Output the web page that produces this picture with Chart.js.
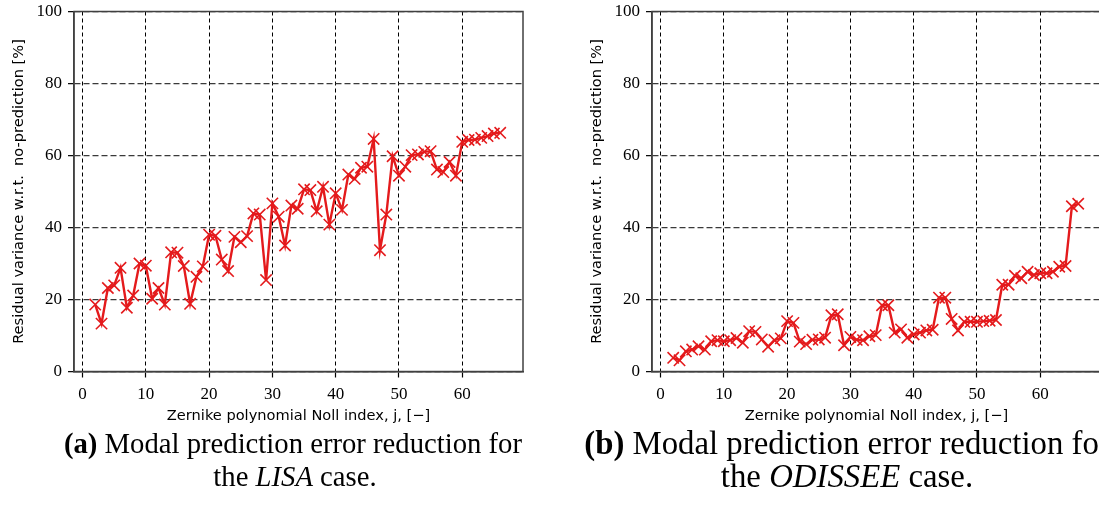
<!DOCTYPE html>
<html>
<head>
<meta charset="utf-8">
<script src="https://cdn.jsdelivr.net/npm/chart.js@4.4.1/dist/chart.umd.min.js"></script>
<style>
  html, body { margin: 0; padding: 0; background: #fff; }
  body { width: 1099px; height: 523px; overflow: hidden; position: relative; }
  canvas { position: absolute; top: 0; }
  #lisaChart { left: 0; }
  #odisseeChart { left: 578px; }
  .cap { position: absolute; font-family: 'Liberation Serif', serif; color: #000; white-space: nowrap; line-height: 1; transform: translate(-50%, -50%); }
  .capA { font-size: 28.7px; }
  .capB { font-size: 32.8px; }
</style>
</head>
<body>
<canvas id="lisaChart" width="545" height="430"></canvas>
<canvas id="odisseeChart" width="545" height="430"></canvas>

<div class="cap capA" style="left:293px; top:443px;"><b>(a)</b> Modal prediction error reduction for</div>
<div class="cap capA" style="left:295px; top:476px;">the <i>LISA</i> case.</div>
<div class="cap capB" style="left:847px; top:443px;"><b>(b)</b> Modal prediction error reduction for</div>
<div class="cap capB" style="left:847px; top:476px;">the <i>ODISSEE</i> case.</div>

<script>
// Zernike polynomial Noll index j
const nollIndex = [2, 3, 4, 5, 6, 7, 8, 9, 10, 11, 12, 13, 14, 15, 16, 17, 18, 19, 20, 21,
  22, 23, 24, 25, 26, 27, 28, 29, 30, 31, 32, 33, 34, 35, 36, 37, 38, 39, 40, 41,
  42, 43, 44, 45, 46, 47, 48, 49, 50, 51, 52, 53, 54, 55, 56, 57, 58, 59, 60, 61,
  62, 63, 64, 65, 66];

// residual variance w.r.t. no-prediction [%]
const lisaResidual = [18.6, 13.3, 23.2, 23.9, 28.8, 17.7, 21.1, 30.0, 29.4, 20.2,
  23.2, 18.6, 33.1, 33.0, 29.3, 18.8, 26.3, 29.2, 38.0, 37.7,
  31.1, 27.9, 37.4, 35.9, 37.6, 43.9, 43.6, 25.4, 46.7, 43.0,
  35.0, 46.1, 45.2, 50.6, 50.4, 44.5, 51.3, 40.8, 49.5, 44.9,
  54.7, 53.5, 56.6, 56.9, 64.6, 33.7, 43.6, 59.8, 54.4, 56.9,
  60.1, 60.3, 61.0, 61.2, 56.1, 55.4, 58.2, 54.4, 63.8, 64.3,
  64.4, 64.9, 65.4, 66.1, 66.3];

const odisseeResidual = [3.8, 3.1, 5.6, 6.1, 7.0, 6.1, 8.4, 8.7, 8.4, 8.7,
  9.3, 8.0, 11.2, 11.0, 8.9, 6.9, 8.7, 9.2, 14.0, 13.5,
  8.3, 7.6, 8.8, 8.9, 9.4, 15.6, 15.9, 7.3, 9.6, 8.8,
  8.7, 9.8, 10.1, 18.4, 18.4, 10.8, 11.7, 9.4, 10.3, 10.8,
  11.4, 11.6, 20.5, 20.5, 14.6, 11.4, 13.8, 13.8, 13.8, 14.0,
  14.1, 14.3, 24.1, 24.1, 26.6, 25.9, 27.7, 26.8, 27.3, 27.3,
  27.7, 29.1, 29.3, 45.9, 46.6];

const xTicks = [0, 10, 20, 30, 40, 50, 60];
const yTicks = [0, 20, 40, 60, 80, 100];

const RED = '#e41a1c';
const SPINE = '#404040';

// full box around the plot area (top and right spines)
const framePlugin = {
  id: 'frame',
  beforeDatasetsDraw(chart) {
    const { ctx, chartArea: a } = chart;
    ctx.save();
    ctx.strokeStyle = SPINE;
    ctx.lineWidth = 1.5;
    ctx.strokeRect(a.left, a.top, a.right - a.left, a.bottom - a.top);
    ctx.restore();
  },
};

function makeChart(id, values) {
  const tickFont = { family: "'Liberation Serif', serif", size: 17 };
  const titleFont = { family: "'DejaVu Sans', sans-serif", size: 14.6 };

  return new Chart(document.getElementById(id), {
    type: 'line',
    data: {
      datasets: [{
        data: nollIndex.map((j, i) => ({ x: j, y: values[i] })),
        borderColor: RED,
        backgroundColor: RED,
        borderWidth: 2.4,
        pointStyle: 'crossRot',
        pointRadius: 8,
        pointBorderWidth: 1.6,
        pointBorderColor: RED,
        tension: 0,
        clip: false,
      }],
    },
    options: {
      responsive: false,
      animation: false,
      devicePixelRatio: 1,
      layout: { padding: { left: 0, top: 11.5, right: 22, bottom: 0 } },
      plugins: { legend: { display: false }, tooltip: { enabled: false } },
      scales: {
        x: {
          type: 'linear',
          min: -1.35,
          max: 69.6,
          afterFit: (s) => { s.height = 58.5; s.paddingLeft = 0; s.paddingRight = 0; },
          afterBuildTicks: (s) => { s.ticks = xTicks.map((v) => ({ value: v })); },
          grid: { color: '#000', lineWidth: 1, tickLength: 6, tickColor: '#000', tickWidth: 1.2 },
          border: { color: SPINE, width: 1.5, dash: [4, 3] },
          ticks: { color: '#000', font: tickFont, padding: 7, maxRotation: 0, autoSkip: false, includeBounds: false },
          title: {
            display: true,
            text: 'Zernike polynomial Noll index, j, [\u2212]',
            color: '#000',
            font: titleFont,
            padding: { top: 0, bottom: 5.5 },
          },
        },
        y: {
          min: 0,
          max: 100,
          afterFit: (s) => { s.width = 74; s.paddingTop = 0; s.paddingBottom = 0; },
          afterBuildTicks: (s) => { s.ticks = yTicks.map((v) => ({ value: v })); },
          grid: { color: '#3a3a3a', lineWidth: 1.3, tickLength: 6, tickColor: '#000', tickWidth: 1.2 },
          border: { color: SPINE, width: 1.5, dash: [6, 3] },
          ticks: { color: '#000', font: tickFont, padding: 6, includeBounds: false },
          title: {
            display: true,
            text: 'Residual variance w.r.t.  no-prediction [%]',
            color: '#000',
            font: titleFont,
            padding: { top: 10, bottom: 0 },
          },
        },
      },
    },
    plugins: [framePlugin],
  });
}

makeChart('lisaChart', lisaResidual);
makeChart('odisseeChart', odisseeResidual);
</script>
</body>
</html>
